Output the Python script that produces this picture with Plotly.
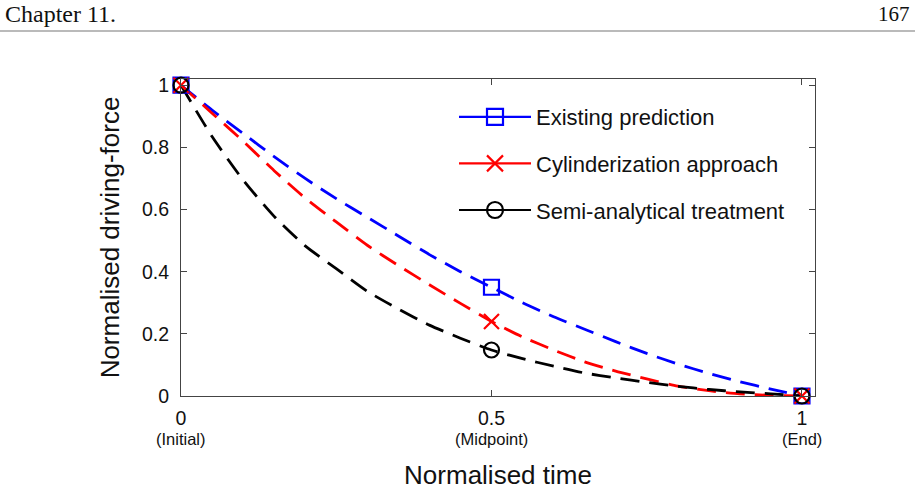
import plotly.graph_objects as go

# ---------------- data ----------------
t = [0, 0.05, 0.1, 0.15, 0.2, 0.25, 0.3, 0.35, 0.4, 0.45, 0.5,
     0.55, 0.6, 0.65, 0.7, 0.75, 0.8, 0.85, 0.9, 0.95, 1.0]
existing = [1.0, 0.92, 0.845, 0.77, 0.70, 0.635, 0.575, 0.515, 0.455, 0.40, 0.35,
            0.30, 0.255, 0.215, 0.175, 0.137, 0.103, 0.073, 0.046, 0.022, 0.0]
cylinder = [1.0, 0.91, 0.82, 0.725, 0.637, 0.56, 0.485, 0.42, 0.358, 0.298, 0.24,
            0.19, 0.148, 0.11, 0.08, 0.055, 0.032, 0.017, 0.007, 0.002, 0.0]
semi = [1.0, 0.835, 0.695, 0.578, 0.483, 0.41, 0.337, 0.28, 0.228, 0.186, 0.148,
        0.12, 0.096, 0.074, 0.058, 0.044, 0.031, 0.021, 0.013, 0.007, 0.0]

marker_t = [0, 0.5, 1]
existing_m = [1.0, 0.35, 0.0]
cylinder_m = [1.0, 0.24, 0.0]
semi_m = [1.0, 0.148, 0.0]

series_names = ["Existing prediction", "Cylinderization approach", "Semi-analytical treatment"]
x_tickvals = [0, 0.5, 1]
x_ticktext = ["0", "0.5", "1"]
x_sublabels = ["(Initial)", "(Midpoint)", "(End)"]
y_tickvals = [0, 0.2, 0.4, 0.6, 0.8, 1]
y_ticktext = ["0", "0.2", "0.4", "0.6", "0.8", "1"]

header_left = "Chapter 11."
header_right = "167"

# ---------------- layout geometry ----------------
W, H = 915, 493
L, R, T, B = 181, 100, 79, 97
PW, PH = W - L - R, H - T - B


def px_x(px):
    return (px - L) / PW


def px_y(py):
    return (H - B - py) / PH


FONT = "Liberation Sans, Arial, sans-serif"
colors = ["#0000ff", "#ff0000", "#000000"]
symbols = ["square-open", "x-thin-open", "circle-open"]
curves = [existing, cylinder, semi]
marks = [existing_m, cylinder_m, semi_m]

fig = go.Figure()

for name, c, y in zip(series_names, colors, curves):
    fig.add_trace(go.Scatter(
        x=t, y=y, mode="lines", showlegend=False, hoverinfo="skip",
        line=dict(color=c, width=2.8, dash="19px,10px", shape="spline", smoothing=0.6),
        cliponaxis=False,
    ))

for name, c, sym, y in zip(series_names, colors, symbols, marks):
    fig.add_trace(go.Scatter(
        x=marker_t, y=y, mode="markers", showlegend=False, name=name,
        marker=dict(symbol=sym, size=15, color=c, line=dict(color=c, width=2.2)),
        cliponaxis=False,
    ))

# legend entries (solid line + marker)
for i, (name, c, sym) in enumerate(zip(series_names, colors, symbols)):
    fig.add_trace(go.Scatter(
        x=[None], y=[None], mode="lines+markers", name=name,
        legendgroup=f"g{i}",
        line=dict(color=c, width=2.2),
        marker=dict(symbol=sym, size=16, color=c, line=dict(color=c, width=2.2)),
    ))

axis_common = dict(
    showline=True, linecolor="#444444", linewidth=1.2, mirror="ticks",
    ticks="inside", ticklen=6, tickcolor="#444444", tickwidth=1.2,
    showgrid=False, zeroline=False, automargin=False,
    tickfont=dict(family=FONT, size=19.5, color="#111111"),
)

fig.update_xaxes(
    range=[0, 1.021], tickvals=x_tickvals, ticktext=x_ticktext,
    title=dict(text="Normalised time", font=dict(family=FONT, size=26, color="#111111"), standoff=38),
    ticklabelstandoff=4,
    **axis_common,
)
fig.update_yaxes(
    range=[0, 1.02], tickvals=y_tickvals, ticktext=y_ticktext,
    title=dict(text="Normalised driving-force", font=dict(family=FONT, size=26, color="#111111"), standoff=14),
    ticklabelstandoff=7,
    **axis_common,
)

annotations = []
for xv, lab in zip(x_tickvals, x_sublabels):
    annotations.append(dict(
        x=xv, y=0, xref="x", yref="paper", yanchor="top", xanchor="center",
        yshift=-32, text=lab, showarrow=False,
        font=dict(family=FONT, size=16.5, color="#111111"),
    ))

annotations.append(dict(
    x=px_x(3), y=px_y(14), xref="paper", yref="paper", xanchor="left", yanchor="middle",
    text=header_left, showarrow=False,
    font=dict(family="Liberation Serif, serif", size=24, color="#111111"),
))
annotations.append(dict(
    x=px_x(912), y=px_y(14), xref="paper", yref="paper", xanchor="right", yanchor="middle",
    text=header_right, showarrow=False,
    font=dict(family="Liberation Serif, serif", size=21, color="#111111"),
))

shapes = [dict(
    type="line", xref="paper", yref="paper",
    x0=px_x(0), x1=px_x(W), y0=px_y(31), y1=px_y(31),
    line=dict(color="#777777", width=1.2),
)]

fig.update_layout(
    width=W, height=H,
    margin=dict(l=L, r=R, t=T, b=B, pad=0),
    paper_bgcolor="white", plot_bgcolor="white",
    showlegend=True,
    legend=dict(
        x=px_x(454), y=px_y(96), xanchor="left", yanchor="top",
        bgcolor="rgba(0,0,0,0)", borderwidth=0,
        font=dict(family=FONT, size=22, color="#111111"),
        tracegroupgap=15, itemwidth=72,
    ),
    annotations=annotations,
    shapes=shapes,
)

fig.write_html("out.html")
